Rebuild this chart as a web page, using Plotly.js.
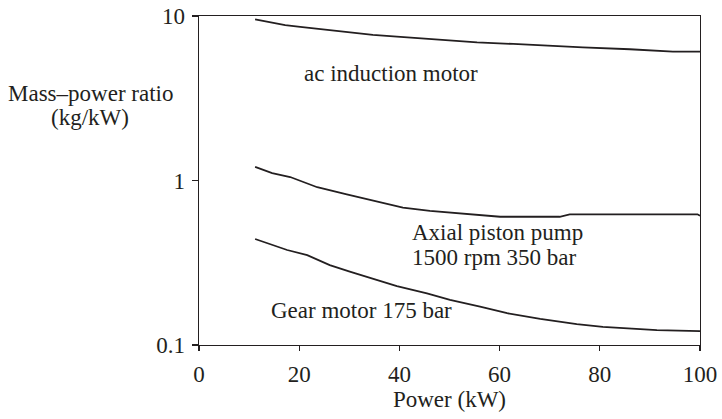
<!DOCTYPE html>
<html>
<head>
<meta charset="utf-8">
<script src="https://cdn.plot.ly/plotly-3.0.1.min.js"></script>
<style>html,body{margin:0;padding:0;background:#fff;}#chart{width:722px;height:419px;}</style>
</head>
<body>
<div id="chart"></div>
<script>
// Power (kW) and mass–power ratio (kg/kW)
const acPower = [11.2, 17.2, 20.2, 24.2, 30.1, 34.7, 39.5, 44.1, 50.1, 55.5, 62.7, 68.7, 76.6, 86, 94.6, 100];
const acRatio = [9.55, 8.8, 8.6, 8.34, 7.93, 7.67, 7.49, 7.31, 7.11, 6.92, 6.76, 6.6, 6.45, 6.28, 6.07, 6.07];

const pumpPower = [11.2, 14.6, 18.2, 23.6, 29.5, 35.5, 40.7, 46.1, 53.5, 60.1, 72, 74, 99.5, 100];
const pumpRatio = [1.21, 1.11, 1.05, 0.91, 0.824, 0.743, 0.684, 0.653, 0.623, 0.602, 0.602, 0.623, 0.623, 0.61];

const gearPower = [11.2, 17.6, 21.6, 26.1, 30.1, 34.7, 39.5, 45.5, 50.1, 56.1, 61.5, 68.1, 75.4, 80.6, 91.4, 100];
const gearRatio = [0.441, 0.378, 0.352, 0.306, 0.279, 0.254, 0.228, 0.206, 0.188, 0.171, 0.156, 0.144, 0.134, 0.129, 0.123, 0.1216];

const xTicks = [0, 20, 40, 60, 80, 100];
const yTickVals = [0.1, 1, 10];
const yTickText = ['0.1', '1', '10'];

const labelLines = ['ac induction motor', 'Axial piston pump', '1500 rpm 350 bar', 'Gear motor 175 bar'];
const labelX = [20.6, 42.2, 42.2, 14.0];
const labelY = [4.5, 0.486, 0.338, 0.163];

const yTitleLines = ['Mass–power ratio', '(kg/kW)'];

const ink = '#231f20';
const fontFam = 'Liberation Serif';
const fs = 23;

const lineStyle = {color: ink, width: 1.8};
const traces = [
  {x: acPower, y: acRatio, mode: 'lines', line: lineStyle, hoverinfo: 'skip'},
  {x: pumpPower, y: pumpRatio, mode: 'lines', line: lineStyle, hoverinfo: 'skip'},
  {x: gearPower, y: gearRatio, mode: 'lines', line: lineStyle, hoverinfo: 'skip'}
];

const annotations = labelLines.map((t, i) => ({
  x: labelX[i], y: Math.log10(labelY[i]), xref: 'x', yref: 'y',
  text: t, showarrow: false, xanchor: 'left', yanchor: 'middle', align: 'left',
  font: {family: fontFam, size: fs, color: ink}
}));
const yTitlePos = [0.765, 0.690];
yTitleLines.forEach((t, i) => annotations.push({
  x: -0.2166, y: yTitlePos[i], xref: 'paper', yref: 'paper',
  text: t, showarrow: false, xanchor: 'center', yanchor: 'middle', align: 'center',
  font: {family: fontFam, size: fs, color: ink}
}));

const layout = {
  width: 722, height: 419,
  margin: {l: 199, r: 22, t: 16, b: 74},
  paper_bgcolor: '#fff', plot_bgcolor: '#fff',
  showlegend: false,
  font: {family: fontFam, size: fs, color: ink},
  xaxis: {
    range: [0, 100], tickvals: xTicks, ticks: 'outside', ticklen: 5, tickwidth: 1.3, tickcolor: ink,
    ticklabelstandoff: 3,
    showline: true, mirror: true, linecolor: ink, linewidth: 1.3, showgrid: false, zeroline: false,
    tickfont: {family: fontFam, size: fs, color: ink},
    title: {text: 'Power (kW)', font: {family: fontFam, size: fs, color: ink}, standoff: 4}
  },
  yaxis: {
    type: 'log', range: [-1, 1], tickvals: yTickVals, ticktext: yTickText,
    ticks: 'outside', ticklen: 6, tickwidth: 1.3, tickcolor: ink, ticklabelstandoff: 2,
    showline: true, mirror: true, linecolor: ink, linewidth: 1.3, showgrid: false, zeroline: false,
    tickfont: {family: fontFam, size: fs, color: ink}
  },
  annotations: annotations
};

Plotly.newPlot('chart', traces, layout, {staticPlot: true, displayModeBar: false});
</script>
</body>
</html>
